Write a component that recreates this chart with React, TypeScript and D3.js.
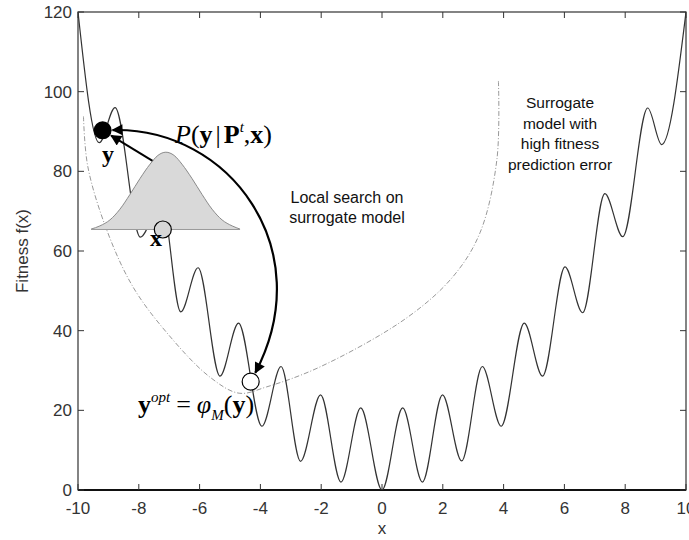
import React from 'react';
import * as d3 from 'd3';

const W = 689;
const H = 540;

const xTicks = [-10, -8, -6, -4, -2, 0, 2, 4, 6, 8, 10];
const yTicks = [0, 20, 40, 60, 80, 100, 120];

// fitness curve: end points + local extrema
const fitX = [-10, -9.3, -8.78, -7.95, -7.25, -6.62, -6.05, -5.33, -4.72, -3.95, -3.32, -2.68, -2.02, -1.35, -0.7, 0,
  0.68, 1.33, 1.99, 2.62, 3.3, 3.92, 4.68, 5.28, 6.02, 6.6, 7.33, 7.92, 8.74, 9.2, 10];
const fitY = [120, 87.2, 96, 63.5, 72.5, 44.7, 55.8, 28.6, 41.9, 16, 31, 7.2, 23.9, 2, 20.6, 0,
  20.6, 2, 23.9, 7.3, 31, 16, 41.9, 28.6, 56, 44.5, 74.4, 63.6, 95.9, 86.7, 120];

// surrogate model (dash-dot)
const surX = [-9.82, -9.68, -9.06, -8.2, -7.08, -5.67, -4.7, -3.79, -2.04, 0.81, 2.35, 3.23, 3.78, 3.83];
const surY = [93.8, 81.3, 65.4, 51.1, 39.5, 28.4, 24.3, 25.9, 30.9, 43.2, 53.7, 64.7, 83, 102.7];

// gaussian bump around x
const bellX = [-9.57, -9.28, -8.95, -8.62, -8.29, -7.96, -7.63, -7.37, -7.11, -6.84, -6.58, -6.25, -5.92, -5.59, -5.26, -4.93, -4.67];
const bellY = [65.5, 66.3, 67.8, 70.5, 74.2, 78.2, 81.8, 84.0, 84.8, 84.0, 81.8, 78.2, 74.2, 70.5, 67.8, 66.3, 65.5];
const bellBase = 65.4;

// annotated points
const ptY = [-9.19, 90.3];
const ptX = [-7.21, 65.4];
const ptOpt = [-4.32, 27.2];
const arcC1 = [-5.01, 91.1];
const arcC2 = [-2.04, 60.4];
const shortFrom = [-7.48, 82.3];

const sans = 'Liberation Sans, Arial, Helvetica, sans-serif';
const serif = 'Liberation Serif, Times New Roman, serif';

export default function App() {
  const x = d3.scaleLinear().domain([-10, 10]).range([78, 686]);
  const y = d3.scaleLinear().domain([0, 120]).range([490, 12]);

  const px = (p: number[]) => [x(p[0]), y(p[1])];
  // point on a circle's rim toward another point
  const rim = (c: number[], to: number[], r: number) => {
    const [cx, cy] = px(c);
    const [tx, ty] = px(to);
    const len = Math.hypot(tx - cx, ty - cy);
    return [cx + (tx - cx) / len * r, cy + (ty - cy) / len * r];
  };

  const fitLine = d3.line<[number, number]>()
    .x(d => x(d[0])).y(d => y(d[1]))
    .curve(d3.curveMonotoneX);
  const surLine = d3.line<[number, number]>()
    .x(d => x(d[0])).y(d => y(d[1]))
    .curve(d3.curveCatmullRom.alpha(0.5));
  const bellArea = d3.area<[number, number]>()
    .x(d => x(d[0])).y0(y(bellBase)).y1(d => y(d[1]))
    .curve(d3.curveMonotoneX);
  const bellLine = d3.line<[number, number]>()
    .x(d => x(d[0])).y(d => y(d[1]))
    .curve(d3.curveMonotoneX);

  const fitData = d3.zip(fitX, fitY) as [number, number][];
  const surData = d3.zip(surX, surY) as [number, number][];
  const bellData = d3.zip(bellX, bellY) as [number, number][];

  // big arc from y to y_opt
  const a0 = rim(ptY, arcC1, 10);
  const a3 = rim(ptOpt, arcC2, 10);
  const c1 = px(arcC1);
  const c2 = px(arcC2);
  const arc = d3.path();
  arc.moveTo(a0[0], a0[1]);
  arc.bezierCurveTo(c1[0], c1[1], c2[0], c2[1], a3[0], a3[1]);

  const s0 = px(shortFrom);
  const s1 = rim(ptY, shortFrom, 10);

  const left = x(-10), right = x(10), top = y(120), bottom = y(0);

  return (
    <div style={{ position: 'absolute', left: 0, top: 0 }}>
      <svg width={W} height={H} style={{ display: 'block', background: '#fff' }}>
        <defs>
          <marker id="head" viewBox="0 0 10 10" refX="9" refY="5" markerWidth="17" markerHeight="11"
            markerUnits="userSpaceOnUse" orient="auto-start-reverse">
            <path d="M0,0 L10,5 L0,10 z" fill="#000" />
          </marker>
          <clipPath id="plot">
            <rect x={left} y={top} width={right - left} height={bottom - top} />
          </clipPath>
        </defs>

        {/* frame + ticks */}
        <rect x={left} y={top} width={right - left} height={bottom - top} fill="none" stroke="#333" strokeWidth={1.2} />
        <line x1={left} x2={right} y1={bottom} y2={bottom} stroke="#111" strokeWidth={2} />
        {xTicks.map(t => (
          <g key={'x' + t}>
            <line x1={x(t)} x2={x(t)} y1={bottom} y2={bottom - 6} stroke="#333" />
            <line x1={x(t)} x2={x(t)} y1={top} y2={top + 6} stroke="#333" />
            <text x={x(t)} y={bottom + 24} textAnchor="middle" fontFamily={sans} fontSize={17} fill="#333">{t}</text>
          </g>
        ))}
        {yTicks.map(t => (
          <g key={'y' + t}>
            <line x1={left} x2={left + 6} y1={y(t)} y2={y(t)} stroke="#333" />
            <line x1={right} x2={right - 6} y1={y(t)} y2={y(t)} stroke="#333" />
            <text x={left - 6} y={y(t) + 6} textAnchor="end" fontFamily={sans} fontSize={17} fill="#333">{t}</text>
          </g>
        ))}
        <text x={(left + right) / 2} y={534} textAnchor="middle" fontFamily={sans} fontSize={17} fill="#333">x</text>
        <text transform={`translate(28,${(top + bottom) / 2}) rotate(-90)`} textAnchor="middle"
          fontFamily={sans} fontSize={17} fill="#333">Fitness f(x)</text>

        {/* curves */}
        <g clipPath="url(#plot)">
          <path d={surLine(surData) || ''} fill="none" stroke="#999" strokeWidth={1} strokeDasharray="5,2,1,2" />
          <path d={fitLine(fitData) || ''} fill="none" stroke="#333" strokeWidth={1.2} />
        </g>

        {/* short arrow, partly under the bell */}
        <line x1={s0[0]} y1={s0[1]} x2={s1[0]} y2={s1[1]} stroke="#000" strokeWidth={2} markerEnd="url(#head)" />

        {/* gaussian */}
        <path d={bellArea(bellData) || ''} fill="#d9d9d9" stroke="none" />
        <path d={bellLine(bellData) || ''} fill="none" stroke="#8a8a8a" strokeWidth={1} />
        <line x1={x(bellX[0])} x2={x(bellX[bellX.length - 1])} y1={y(bellBase)} y2={y(bellBase)} stroke="#9a9a9a" strokeWidth={1} />

        {/* arc */}
        <path d={arc.toString()} fill="none" stroke="#000" strokeWidth={2.2}
          markerStart="url(#head)" markerEnd="url(#head)" />

        {/* points */}
        <circle cx={x(ptY[0])} cy={y(ptY[1])} r={9} fill="#000" />
        <circle cx={x(ptX[0])} cy={y(ptX[1])} r={8.5} fill="#d6d6d6" stroke="#000" strokeWidth={1.2} />
        <circle cx={x(ptOpt[0])} cy={y(ptOpt[1])} r={8.5} fill="#fff" stroke="#000" strokeWidth={1.2} />

        {/* labels */}
        <text x={108} y={162} textAnchor="middle" fontFamily={serif} fontWeight="bold" fontSize={24}>y</text>
        <text x={156} y={246} textAnchor="middle" fontFamily={serif} fontWeight="bold" fontSize={24}>x</text>

        <text x={175} y={143} fontFamily={serif} fontSize={26} fill="#000">
          <tspan fontStyle="italic">P</tspan>
          <tspan>(</tspan>
          <tspan fontWeight="bold">y</tspan>
          <tspan dx={3}>|</tspan>
          <tspan dx={3} fontWeight="bold">P</tspan>
          <tspan fontStyle="italic" fontSize={15} dy={-11}>t</tspan>
          <tspan dy={11}>,</tspan>
          <tspan fontWeight="bold">x</tspan>
          <tspan>)</tspan>
        </text>

        <text x={138} y={413} fontFamily={serif} fontSize={26} fill="#000">
          <tspan fontWeight="bold">y</tspan>
          <tspan fontStyle="italic" fontSize={15} dy={-11}>opt</tspan>
          <tspan dy={11} dx={6}>=</tspan>
          <tspan dx={6} fontStyle="italic">φ</tspan>
          <tspan fontStyle="italic" fontSize={15} dy={7}>M</tspan>
          <tspan dy={-7}>(</tspan>
          <tspan fontWeight="bold">y</tspan>
          <tspan>)</tspan>
        </text>

        <text x={347} y={203} textAnchor="middle" fontFamily={sans} fontSize={16} fill="#111">
          <tspan x={347}>Local search on</tspan>
          <tspan x={347} dy={20}>surrogate model</tspan>
        </text>

        <text x={560} y={108} textAnchor="middle" fontFamily={sans} fontSize={15.5} fill="#111">
          <tspan x={560}>Surrogate</tspan>
          <tspan x={560} dy={20.5}>model with</tspan>
          <tspan x={560} dy={20.5}>high fitness</tspan>
          <tspan x={560} dy={20.5}>prediction error</tspan>
        </text>
      </svg>
    </div>
  );
}
